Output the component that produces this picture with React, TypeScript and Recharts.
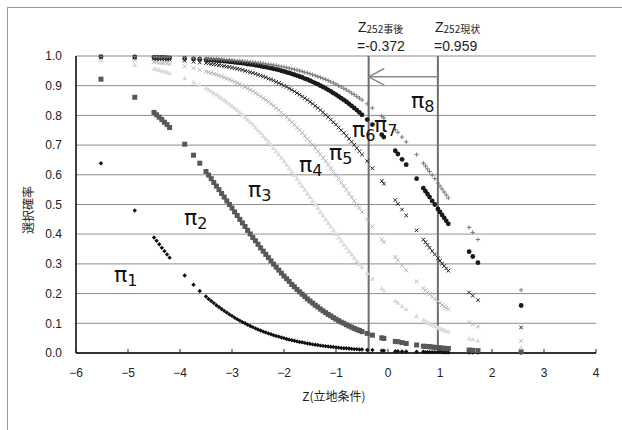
import React from "react";
import { ScatterChart, Scatter, XAxis, YAxis, CartesianGrid, ReferenceLine } from "recharts";

// Z（立地条件）の値：左の疎な点、-3.5〜-0.5 の密な区間、右の疎な点
const zValues = [
  -5.52, -4.87, -4.5, -4.45, -4.4, -4.35, -4.3, -4.25, -4.2, -3.91, -3.74, -3.62,
  -3.5, -3.45, -3.4, -3.35, -3.3, -3.25, -3.2, -3.15, -3.1, -3.05, -3.0, -2.95, -2.9, -2.85, -2.8,
  -2.75, -2.7, -2.65, -2.6, -2.55, -2.5, -2.45, -2.4, -2.35, -2.3, -2.25, -2.2, -2.15, -2.1, -2.05,
  -2.0, -1.95, -1.9, -1.85, -1.8, -1.75, -1.7, -1.65, -1.6, -1.55, -1.5, -1.45, -1.4, -1.35, -1.3,
  -1.25, -1.2, -1.15, -1.1, -1.05, -1.0, -0.95, -0.9, -0.85, -0.8, -0.75, -0.7, -0.65, -0.6, -0.55, -0.5,
  -0.4, -0.3, -0.12, -0.08, 0.14, 0.19, 0.27, 0.35, 0.55, 0.68, 0.72, 0.76, 0.8, 0.85, 0.9, 0.96,
  1.0, 1.04, 1.08, 1.12, 1.16, 1.56, 1.63, 1.73, 2.56,
];

const pi1 = [
  0.639, 0.48, 0.389, 0.378, 0.366, 0.354, 0.343, 0.332, 0.321, 0.261, 0.23, 0.209,
  0.19, 0.182, 0.175, 0.168, 0.161, 0.155, 0.148, 0.142, 0.136, 0.13, 0.125, 0.119, 0.114, 0.109, 0.104,
  0.1, 0.095, 0.091, 0.087, 0.083, 0.079, 0.076, 0.072, 0.069, 0.066, 0.063, 0.06, 0.057, 0.055, 0.052,
  0.05, 0.047, 0.045, 0.043, 0.041, 0.039, 0.037, 0.036, 0.034, 0.032, 0.031, 0.029, 0.028, 0.027, 0.025,
  0.024, 0.023, 0.022, 0.021, 0.02, 0.019, 0.018, 0.017, 0.016, 0.016, 0.015, 0.014, 0.013, 0.013, 0.012, 0.012,
  0.01, 0.01, 0.008, 0.008, 0.006, 0.006, 0.005, 0.005, 0.004, 0.004, 0.003, 0.003, 0.003, 0.003, 0.003, 0.003,
  0.003, 0.003, 0.002, 0.002, 0.002, 0.0015, 0.0014, 0.0013, 0.0005,
];

const pi2 = [
  0.922, 0.861, 0.81, 0.802, 0.794, 0.786, 0.777, 0.769, 0.759, 0.703, 0.666, 0.639,
  0.611, 0.599, 0.587, 0.574, 0.562, 0.55, 0.537, 0.525, 0.512, 0.5, 0.488, 0.475, 0.463, 0.45, 0.438,
  0.426, 0.413, 0.401, 0.389, 0.378, 0.366, 0.354, 0.343, 0.332, 0.321, 0.31, 0.299, 0.289, 0.279, 0.269,
  0.259, 0.25, 0.241, 0.231, 0.223, 0.214, 0.206, 0.198, 0.19, 0.182, 0.175, 0.168, 0.161, 0.155, 0.148,
  0.142, 0.136, 0.13, 0.125, 0.119, 0.114, 0.109, 0.104, 0.1, 0.095, 0.091, 0.087, 0.083, 0.079, 0.076, 0.072,
  0.066, 0.06, 0.051, 0.049, 0.039, 0.038, 0.035, 0.032, 0.027, 0.023, 0.022, 0.022, 0.021, 0.02, 0.019, 0.018,
  0.017, 0.016, 0.016, 0.015, 0.015, 0.01, 0.009, 0.008, 0.004,
];

const pi3 = [
  0.984, 0.97, 0.957, 0.955, 0.953, 0.95, 0.948, 0.945, 0.943, 0.925, 0.912, 0.902,
  0.891, 0.886, 0.881, 0.875, 0.87, 0.864, 0.858, 0.852, 0.846, 0.839, 0.832, 0.825, 0.818, 0.81, 0.802,
  0.794, 0.786, 0.777, 0.769, 0.759, 0.75, 0.741, 0.731, 0.721, 0.711, 0.701, 0.69, 0.679, 0.668, 0.657,
  0.646, 0.634, 0.622, 0.611, 0.599, 0.587, 0.574, 0.562, 0.55, 0.537, 0.525, 0.512, 0.5, 0.488, 0.475,
  0.463, 0.45, 0.438, 0.426, 0.413, 0.401, 0.389, 0.378, 0.366, 0.354, 0.343, 0.332, 0.321, 0.31, 0.299, 0.289,
  0.269, 0.25, 0.218, 0.211, 0.176, 0.169, 0.158, 0.148, 0.125, 0.111, 0.107, 0.103, 0.1, 0.095, 0.091, 0.086,
  0.083, 0.08, 0.077, 0.074, 0.072, 0.049, 0.046, 0.042, 0.019,
];

const pi4 = [
  0.993, 0.986, 0.98, 0.979, 0.978, 0.977, 0.976, 0.975, 0.973, 0.965, 0.959, 0.953,
  0.948, 0.945, 0.943, 0.94, 0.937, 0.934, 0.931, 0.928, 0.924, 0.921, 0.917, 0.913, 0.909, 0.905, 0.9,
  0.896, 0.891, 0.886, 0.881, 0.875, 0.87, 0.864, 0.858, 0.852, 0.846, 0.839, 0.832, 0.825, 0.818, 0.81,
  0.802, 0.794, 0.786, 0.777, 0.769, 0.759, 0.75, 0.741, 0.731, 0.721, 0.711, 0.701, 0.69, 0.679, 0.668,
  0.657, 0.646, 0.634, 0.622, 0.611, 0.599, 0.587, 0.574, 0.562, 0.55, 0.537, 0.525, 0.512, 0.5, 0.488, 0.475,
  0.45, 0.426, 0.382, 0.373, 0.323, 0.312, 0.295, 0.279, 0.241, 0.218, 0.211, 0.204, 0.198, 0.19, 0.182, 0.174,
  0.168, 0.162, 0.157, 0.152, 0.147, 0.103, 0.097, 0.089, 0.041,
];

const pi5 = [
  0.997, 0.994, 0.991, 0.99, 0.99, 0.99, 0.989, 0.988, 0.988, 0.984, 0.981, 0.978,
  0.976, 0.975, 0.973, 0.972, 0.971, 0.969, 0.968, 0.966, 0.964, 0.963, 0.961, 0.959, 0.957, 0.955, 0.953,
  0.95, 0.948, 0.945, 0.943, 0.94, 0.937, 0.934, 0.931, 0.928, 0.924, 0.921, 0.917, 0.913, 0.909, 0.905,
  0.9, 0.896, 0.891, 0.886, 0.881, 0.875, 0.87, 0.864, 0.858, 0.852, 0.846, 0.839, 0.832, 0.825, 0.818,
  0.81, 0.802, 0.794, 0.786, 0.777, 0.769, 0.759, 0.75, 0.741, 0.731, 0.721, 0.711, 0.701, 0.69, 0.679, 0.668,
  0.646, 0.622, 0.579, 0.57, 0.515, 0.502, 0.483, 0.463, 0.413, 0.382, 0.373, 0.364, 0.354, 0.343, 0.332, 0.319,
  0.31, 0.301, 0.293, 0.285, 0.277, 0.204, 0.193, 0.178, 0.086,
];

const pi6 = [
  0.998, 0.997, 0.995, 0.995, 0.995, 0.995, 0.995, 0.994, 0.994, 0.992, 0.99, 0.989,
  0.988, 0.987, 0.987, 0.986, 0.985, 0.984, 0.984, 0.983, 0.982, 0.981, 0.98, 0.979, 0.978, 0.977, 0.976,
  0.975, 0.973, 0.972, 0.971, 0.969, 0.968, 0.966, 0.964, 0.963, 0.961, 0.959, 0.957, 0.955, 0.953, 0.95,
  0.948, 0.945, 0.943, 0.94, 0.937, 0.934, 0.931, 0.928, 0.924, 0.921, 0.917, 0.913, 0.909, 0.905, 0.9,
  0.896, 0.891, 0.886, 0.881, 0.875, 0.87, 0.864, 0.858, 0.852, 0.846, 0.839, 0.832, 0.825, 0.818, 0.81, 0.802,
  0.786, 0.769, 0.735, 0.727, 0.681, 0.67, 0.652, 0.634, 0.587, 0.555, 0.545, 0.535, 0.525, 0.512, 0.5, 0.485,
  0.475, 0.465, 0.455, 0.445, 0.435, 0.341, 0.325, 0.304, 0.16,
];

const pi7 = [
  0.999, 0.998, 0.997, 0.997, 0.996, 0.996, 0.996, 0.996, 0.996, 0.994, 0.993, 0.992,
  0.991, 0.991, 0.99, 0.99, 0.99, 0.989, 0.988, 0.988, 0.987, 0.987, 0.986, 0.985, 0.984, 0.984, 0.983,
  0.982, 0.981, 0.98, 0.979, 0.978, 0.977, 0.976, 0.975, 0.973, 0.972, 0.971, 0.969, 0.968, 0.966, 0.964,
  0.963, 0.961, 0.959, 0.957, 0.955, 0.953, 0.95, 0.948, 0.945, 0.943, 0.94, 0.937, 0.934, 0.931, 0.928,
  0.924, 0.921, 0.917, 0.913, 0.909, 0.905, 0.9, 0.896, 0.891, 0.886, 0.881, 0.875, 0.87, 0.864, 0.858, 0.852,
  0.839, 0.825, 0.797, 0.791, 0.752, 0.743, 0.727, 0.711, 0.668, 0.639, 0.63, 0.62, 0.611, 0.599, 0.587, 0.572,
  0.562, 0.552, 0.542, 0.532, 0.522, 0.423, 0.406, 0.382, 0.212,
];

const xTicks = [-6, -5, -4, -3, -2, -1, 0, 1, 2, 3, 4];
const yTicks = [0, 0.1, 0.2, 0.3, 0.4, 0.5, 0.6, 0.7, 0.8, 0.9, 1.0];

const zAfter = -0.372;
const zNow = 0.959;
const arrowY = 0.93;

const toPoints = (ys: number[]) =>
  zValues.map((z, i) => ({ z, p: ys[i] })).filter((d) => d.p !== undefined);

// マーカー（Excel 既定の系列マーカーに近づける）
const Diamond = ({ cx, cy }: any) => (
  <polygon points={`${cx},${cy - 2.2} ${cx + 2.2},${cy} ${cx},${cy + 2.2} ${cx - 2.2},${cy}`} fill="#111" />
);
const Square = ({ cx, cy }: any) => <rect x={cx - 2.5} y={cy - 2.5} width={5} height={5} fill="#585858" />;
const Triangle = ({ cx, cy }: any) => (
  <polygon points={`${cx},${cy - 2.6} ${cx + 2.6},${cy + 2} ${cx - 2.6},${cy + 2}`} fill="#dcdcdc" />
);
const XLight = ({ cx, cy }: any) => (
  <path d={`M${cx - 2},${cy - 2}L${cx + 2},${cy + 2}M${cx - 2},${cy + 2}L${cx + 2},${cy - 2}`} stroke="#b4b4b4" strokeWidth={1} />
);
const XDark = ({ cx, cy }: any) => (
  <path d={`M${cx - 1.8},${cy - 1.8}L${cx + 1.8},${cy + 1.8}M${cx - 1.8},${cy + 1.8}L${cx + 1.8},${cy - 1.8}`} stroke="#222" strokeWidth={1} />
);
const Dot = ({ cx, cy }: any) => <circle cx={cx} cy={cy} r={2.4} fill="#1a1a1a" />;
const Plus = ({ cx, cy }: any) => (
  <path d={`M${cx - 2.2},${cy}L${cx + 2.2},${cy}M${cx},${cy - 2.2}L${cx},${cy + 2.2}`} stroke="#7a7a7a" strokeWidth={1} />
);

const XTick = ({ x, y, payload }: any) => (
  <g>
    <line x1={x} x2={x} y1={y - 4} y2={y} stroke="#222" strokeWidth={1} />
    <text x={x} y={y + 20} dy="0.35em" textAnchor="middle" fontSize={12} fill="#222" fontFamily="Liberation Sans, sans-serif">
      {payload.value < 0 ? `−${Math.abs(payload.value)}` : payload.value}
    </text>
  </g>
);

const PiLabel = ({ x, y, n }: { x: number; y: number; n: number }) => (
  <text x={x} y={y} fontSize={22} fill="#111" fontFamily="DejaVu Sans, sans-serif">
    π<tspan fontSize={16} dy={4}>{n}</tspan>
  </text>
);

export default function App() {
  return (
    <div style={{ position: "absolute", left: 0, top: 0, width: 622, height: 430, overflow: "hidden", background: "#fff" }}>
      <div style={{ position: "absolute", left: 7, top: 7, width: 700, height: 500, borderLeft: "1px solid #999", borderTop: "1px solid #999" }} />
      <div style={{ position: "absolute", left: 0, top: 0 }}>
        <ScatterChart width={622} height={430} margin={{ top: 56, right: 26, bottom: 47, left: 0 }}>
          <CartesianGrid vertical={false} stroke="#8c8c8c" />
          <XAxis
            type="number"
            dataKey="z"
            domain={[-6, 4]}
            ticks={xTicks}
            height={30}
            tickSize={0}
            tickMargin={0}
            tickLine={false}
            axisLine={{ stroke: "#000", strokeWidth: 1.5 }}
            tick={<XTick />}
            interval={0}
          />
          <YAxis
            type="number"
            dataKey="p"
            domain={[0, 1]}
            ticks={yTicks}
            width={76}
            tickSize={0}
            tickMargin={14}
            tickLine={false}
            axisLine={{ stroke: "#000", strokeWidth: 1.5 }}
            tick={{ fontSize: 12, fill: "#222", fontFamily: "Liberation Sans, sans-serif" }}
            tickFormatter={(v: number) => v.toFixed(1)}
            interval={0}
          />
          <ReferenceLine y={0.4} stroke="#c4c4c4" strokeWidth={1.5} />
          <Scatter data={toPoints(pi1)} shape={Diamond} isAnimationActive={false} />
          <Scatter data={toPoints(pi2)} shape={Square} isAnimationActive={false} />
          <Scatter data={toPoints(pi3)} shape={Triangle} isAnimationActive={false} />
          <Scatter data={toPoints(pi4)} shape={XLight} isAnimationActive={false} />
          <Scatter data={toPoints(pi5)} shape={XDark} isAnimationActive={false} />
          <Scatter data={toPoints(pi6)} shape={Dot} isAnimationActive={false} />
          <Scatter data={toPoints(pi7)} shape={Plus} isAnimationActive={false} />
          <ReferenceLine x={zAfter} stroke="#6e6e6e" strokeWidth={2} />
          <ReferenceLine x={zNow} stroke="#6e6e6e" strokeWidth={2} />
          <ReferenceLine segment={[{ x: zNow, y: arrowY }, { x: zAfter, y: arrowY }]} stroke="#8a8a8a" strokeWidth={1.5} />
          <ReferenceLine segment={[{ x: zAfter, y: arrowY }, { x: zAfter + 0.3, y: arrowY + 0.028 }]} stroke="#8a8a8a" strokeWidth={1.5} />
          <ReferenceLine segment={[{ x: zAfter, y: arrowY }, { x: zAfter + 0.3, y: arrowY - 0.028 }]} stroke="#8a8a8a" strokeWidth={1.5} />
        </ScatterChart>
      </div>
      <svg width={622} height={430} style={{ position: "absolute", left: 0, top: 0, pointerEvents: "none" }}>
        <text transform="translate(27,210) rotate(-90)" textAnchor="middle" dominantBaseline="central" fontSize={12} fill="#222" fontFamily="Noto Sans CJK JP, sans-serif">
          選択確率
        </text>
        <text x={334} y={395} textAnchor="middle" dominantBaseline="central" fontSize={12} fill="#222" fontFamily="Noto Sans CJK JP, sans-serif">
          Z(立地条件)
        </text>
        <g fontFamily="Liberation Sans, Noto Sans CJK JP, sans-serif" fill="#222">
          <text x={358} y={32} fontSize={14}>
            Z<tspan fontSize={10} dy={1} fontFamily="Noto Sans CJK JP, sans-serif">252事後</tspan>
          </text>
          <text x={357} y={51} fontSize={14}>=-0.372</text>
          <text x={435} y={32} fontSize={14}>
            Z<tspan fontSize={10} dy={1} fontFamily="Noto Sans CJK JP, sans-serif">252現状</tspan>
          </text>
          <text x={434} y={51} fontSize={14}>=0.959</text>
        </g>
        <PiLabel x={114} y={282} n={1} />
        <PiLabel x={184} y={225} n={2} />
        <PiLabel x={248} y={197} n={3} />
        <PiLabel x={299} y={172} n={4} />
        <PiLabel x={329} y={160} n={5} />
        <PiLabel x={352} y={137} n={6} />
        <PiLabel x={374} y={132} n={7} />
        <PiLabel x={411} y={108} n={8} />
      </svg>
    </div>
  );
}
